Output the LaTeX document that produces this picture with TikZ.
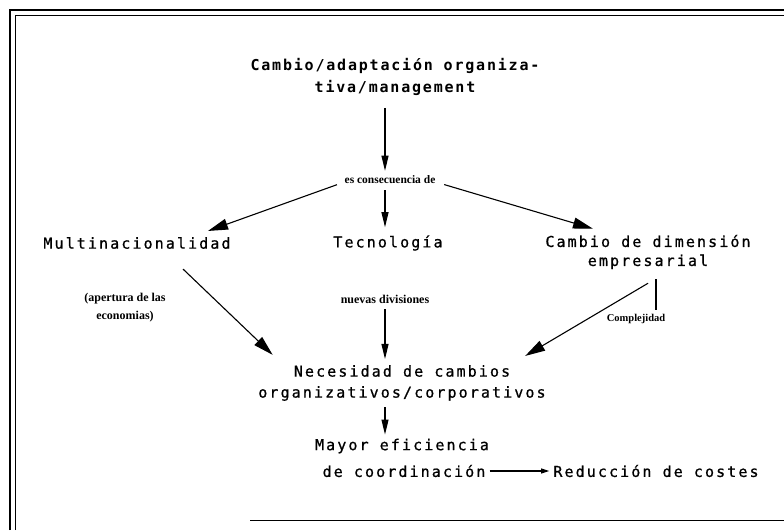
\documentclass[tikz,border=0pt]{standalone}
\usepackage{fontspec}
\usetikzlibrary{arrows.meta,calc}
\newfontfamily\monof[LetterSpace=14,FakeBold=0.8]{DejaVu Sans Mono}
\newfontfamily\monobf[LetterSpace=12]{DejaVu Sans Mono Bold}
\newfontfamily\notef{Liberation Serif}
\begin{document}
\begin{tikzpicture}[x=1pt,y=-1pt,
  lbl/.style={inner sep=0pt, align=center, font=\monof\fontsize{15}{19}\selectfont},
  ttl/.style={inner sep=0pt, align=center, font=\monobf\fontsize{15}{22}\selectfont},
  note/.style={inner sep=0pt, align=center, font=\notef\bfseries\fontsize{12}{18}\selectfont},
  link/.style={line width=1.1pt},
  bighead/.style={link, -{Triangle[length=20pt,width=11pt]}},
  midhead/.style={link, -{Triangle[length=15pt,width=7pt]}},
  smallhead/.style={link, -{Triangle[length=8pt,width=5pt]}}
]
\useasboundingbox (0,0) rectangle (784,530);

% double frame
\draw[line width=2.2pt] (10,530) -- (10,10) -- (784,10);
\draw[line width=1.2pt] (15.5,530) -- (15.5,15.5) -- (784,15.5);
\draw[line width=1pt] (250,520) -- (784,520);

% texts
\node[ttl] (title) at (395,77) {Cambio/adaptación organiza-\\tiva/management};
\node[note, font=\notef\bfseries\fontsize{11.5}{18}\selectfont] (cons) at (390,180) {es consecuencia de};
\node[lbl] (multi) at (137,243) {Multinacionalidad};
\node[lbl] (tec) at (388,243) {Tecnología};
\node[lbl] (dim) at (648,252) {Cambio de dimensión\\empresarial};
\node[note] (apert) at (125,308) {(apertura de las\\economias)};
\node[note] (nuevas) at (385,299) {nuevas divisiones};
\node[note, font=\notef\bfseries\fontsize{10.5}{12}\selectfont] (compl) at (636,319) {Complejidad};
\node[lbl, font=\monof\fontsize{15}{21}\selectfont] (nec) at (402,383) {Necesidad de cambios\\organizativos/corporativos};
\node[lbl] (mayor) at (402,446) {Mayor eficiencia};
\node[lbl] (coord) at (404,471) {de coordinación};
\node[lbl] (red) at (656,471) {Reducción de costes};

% connectors
\draw[midhead, shorten <=12pt, shorten >=5pt] (title.south -| 385,0) -- (cons.north -| 385,0);
\draw[bighead, shorten <=8pt] ($(cons.west)+(0,2)$) -- ($(multi.north)+(71,-6)$);
\draw[bighead, shorten <=9pt] ($(cons.east)+(0,2)$) -- ($(dim.north)+(-55,-6)$);
\draw[midhead, shorten <=6pt, shorten >=8pt] (cons.south -| 385,0) -- (tec.north -| 385,0);
\draw[bighead, shorten >=6pt] ($(multi.south)+(46,20)$) -- ($(nec.north)+(-125,-6)$);
\draw[midhead, shorten <=6pt, shorten >=6pt] (nuevas.south -| 385,0) -- (nec.north -| 385,0);
\draw[bighead, shorten >=6pt] ($(dim.south)+(0,14)$) -- ($(nec.north)+(118,-6)$);
\draw[link] ($(dim.south)+(8,10)$) -- ($(compl.north)+(20,-4)$);
\draw[midhead, shorten <=6pt, shorten >=4pt] (nec.south -| 385,0) -- (mayor.north -| 385,0);
\draw[smallhead, shorten <=4pt, shorten >=4pt] (coord.east) -- (red.west);
\end{tikzpicture}
\end{document}
